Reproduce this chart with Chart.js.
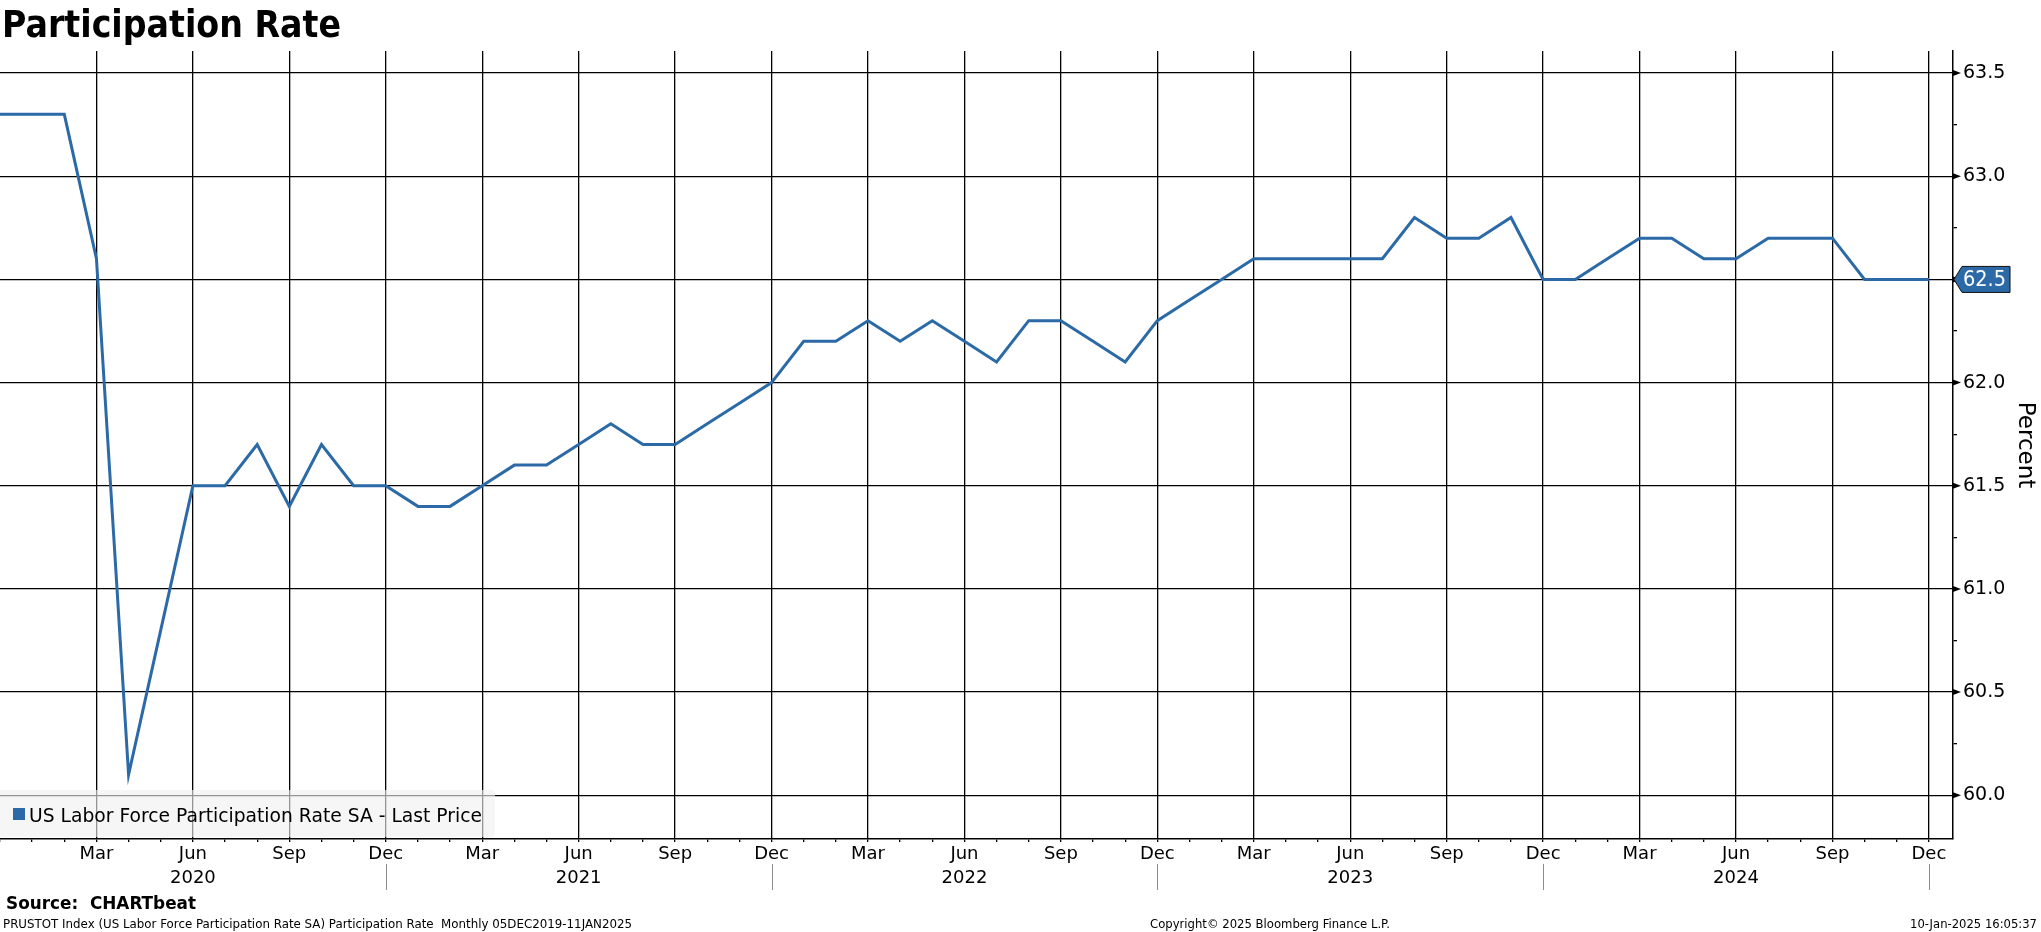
<!DOCTYPE html>
<html>
<head>
<meta charset="utf-8">
<script src="https://cdn.jsdelivr.net/npm/chart.js"></script>
<style>
  html, body { margin: 0; padding: 0; background: #fff; }
  #chart { display: block; }
</style>
</head>
<body>
<canvas id="chart" width="2041" height="932"></canvas>
<script>
// monthly observations, Dec 2019 .. Dec 2024
const months = [
  '2019-12',
  '2020-01','2020-02','2020-03','2020-04','2020-05','2020-06','2020-07','2020-08','2020-09','2020-10','2020-11','2020-12',
  '2021-01','2021-02','2021-03','2021-04','2021-05','2021-06','2021-07','2021-08','2021-09','2021-10','2021-11','2021-12',
  '2022-01','2022-02','2022-03','2022-04','2022-05','2022-06','2022-07','2022-08','2022-09','2022-10','2022-11','2022-12',
  '2023-01','2023-02','2023-03','2023-04','2023-05','2023-06','2023-07','2023-08','2023-09','2023-10','2023-11','2023-12',
  '2024-01','2024-02','2024-03','2024-04','2024-05','2024-06','2024-07','2024-08','2024-09','2024-10','2024-11','2024-12'
];
const participation = [
  63.3,
  63.3, 63.3, 62.6, 60.1, 60.8, 61.5, 61.5, 61.7, 61.4, 61.7, 61.5, 61.5,
  61.4, 61.4, 61.5, 61.6, 61.6, 61.7, 61.8, 61.7, 61.7, 61.8, 61.9, 62.0,
  62.2, 62.2, 62.3, 62.2, 62.3, 62.2, 62.1, 62.3, 62.3, 62.2, 62.1, 62.3,
  62.4, 62.5, 62.6, 62.6, 62.6, 62.6, 62.6, 62.8, 62.7, 62.7, 62.8, 62.5,
  62.5, 62.6, 62.7, 62.7, 62.6, 62.6, 62.7, 62.7, 62.7, 62.5, 62.5, 62.5
];
const monthNames = ['Jan','Feb','Mar','Apr','May','Jun','Jul','Aug','Sep','Oct','Nov','Dec'];
const labelledMonths = ['Mar','Jun','Sep','Dec'];
const yearLabelMonth = 'Jun';
const yTickValues = [60.0, 60.25, 60.5, 60.75, 61.0, 61.25, 61.5, 61.75, 62.0, 62.25, 62.5, 62.75, 63.0, 63.25, 63.5];
const seriesLabel = 'US Labor Force Participation Rate SA - Last Price';

const LINE = '#2c6aa7';
const FONT = "'DejaVu Sans', sans-serif";

function monthName(i) {
  return monthNames[parseInt(months[i].slice(5), 10) - 1];
}

// draw text squeezed/stretched to a target width
function fitText(ctx, text, x, y, font, width, align) {
  ctx.save();
  ctx.font = font;
  const w = ctx.measureText(text).width;
  const sx = width / w;
  let left = x;
  if (align === 'center') left = x - width / 2;
  if (align === 'right') left = x - width;
  ctx.translate(left, y);
  ctx.scale(sx, 1);
  ctx.textAlign = 'left';
  ctx.fillText(text, 0, 0);
  ctx.restore();
}

const decorations = {
  id: 'decorations',
  afterDraw(chart) {
    const ctx = chart.ctx;
    const x = chart.scales.x, y = chart.scales.y;
    const area = chart.chartArea;

    ctx.save();
    ctx.fillStyle = '#000';
    ctx.textBaseline = 'alphabetic';

    // title
    fitText(ctx, 'Participation Rate', 2, 37, 'bold 37px ' + FONT, 339);

    // arrow ticks at major y values
    yTickValues.forEach(v => {
      if (Math.round(v * 2) !== v * 2) return;
      const py = y.getPixelForValue(v);
      ctx.beginPath();
      ctx.moveTo(area.right, py - 3);
      ctx.lineTo(area.right + 8, py);
      ctx.lineTo(area.right, py + 3);
      ctx.closePath();
      ctx.fill();
    });

    // year separators
    ctx.strokeStyle = '#8c8c8c';
    ctx.lineWidth = 1;
    months.forEach((m, i) => {
      if (i > 0 && monthName(i) === 'Dec') {
        const px = Math.round(x.getPixelForValue(i)) + 0.5;
        ctx.beginPath();
        ctx.moveTo(px, 864);
        ctx.lineTo(px, 890);
        ctx.stroke();
      }
    });

    // last value tag
    const last = participation[participation.length - 1];
    const ty = y.getPixelForValue(last);
    const tx = area.right + 1;
    ctx.beginPath();
    ctx.moveTo(tx, ty);
    ctx.lineTo(tx + 8, ty - 13);
    ctx.lineTo(2010, ty - 13);
    ctx.lineTo(2010, ty + 13);
    ctx.lineTo(tx + 8, ty + 13);
    ctx.closePath();
    ctx.fillStyle = LINE;
    ctx.fill();
    ctx.strokeStyle = '#111';
    ctx.lineWidth = 1;
    ctx.stroke();
    ctx.fillStyle = '#fff';
    ctx.textBaseline = 'middle';
    fitText(ctx, last.toFixed(1), 1963, ty + 1, '21px ' + FONT, 43);

    // legend box
    ctx.fillStyle = 'rgba(240,240,240,0.62)';
    ctx.beginPath();
    ctx.roundRect(-4, 790, 499, 47, 4);
    ctx.fill();
    ctx.fillStyle = LINE;
    ctx.fillRect(13, 808, 12, 12);
    ctx.fillStyle = '#000';
    ctx.textBaseline = 'alphabetic';
    fitText(ctx, chart.data.datasets[0].label, 29, 822, '20px ' + FONT, 453);

    // footer
    fitText(ctx, 'Source:  CHARTbeat', 6, 909, 'bold 17px ' + FONT, 190);
    fitText(ctx, 'PRUSTOT Index (US Labor Force Participation Rate SA) Participation Rate  Monthly 05DEC2019-11JAN2025',
      3, 928, '12px ' + FONT, 629);
    fitText(ctx, 'Copyright\u00A9 2025 Bloomberg Finance L.P.', 1270, 928, '12px ' + FONT, 240, 'center');
    fitText(ctx, '10-Jan-2025 16:05:37', 2037, 928, '12px ' + FONT, 127, 'right');
    ctx.restore();
  }
};

new Chart(document.getElementById('chart'), {
  type: 'line',
  data: {
    datasets: [{
      label: seriesLabel,
      data: participation.map((v, i) => ({ x: i, y: v })),
      borderColor: LINE,
      borderWidth: 3,
      pointRadius: 0,
      tension: 0,
      fill: false
    }]
  },
  options: {
    responsive: false,
    devicePixelRatio: 1,
    animation: false,
    layout: { padding: { top: 51, left: 0, right: 0, bottom: 0 } },
    plugins: {
      legend: { display: false },
      tooltip: { enabled: false },
      title: { display: false }
    },
    scales: {
      x: {
        type: 'linear',
        min: 0,
        max: 60.75,
        afterFit(scale) { scale.height = 93; },
        afterBuildTicks(scale) {
          scale.ticks = months.map((m, i) => ({ value: i }));
        },
        grid: {
          color(ctx) {
            const i = ctx.tick && ctx.tick.value;
            return i > 0 && labelledMonths.includes(monthName(i)) ? '#000' : 'rgba(0,0,0,0)';
          },
          tickColor: '#000',
          lineWidth: 1.3,
          tickLength: 3,
          drawOnChartArea: true
        },
        border: { display: true, color: '#000', width: 1.5 },
        ticks: {
          autoSkip: false,
          maxRotation: 0,
          padding: 0,
          color: '#000',
          font: { family: FONT, size: 18, lineHeight: 1.33 },
          callback(value) {
            const i = Math.round(value);
            if (i === 0) return '';
            const name = monthName(i);
            if (!labelledMonths.includes(name)) return '';
            if (name === yearLabelMonth) return [name, months[i].slice(0, 4)];
            return name;
          }
        }
      },
      y: {
        position: 'right',
        min: 59.788,
        max: 63.607,
        afterFit(scale) { scale.width = 88; },
        afterBuildTicks(scale) {
          scale.ticks = yTickValues.map(v => ({ value: v }));
        },
        grid: {
          color(ctx) {
            const v = ctx.tick && ctx.tick.value;
            return Math.round(v * 2) === v * 2 ? '#000' : 'rgba(0,0,0,0)';
          },
          tickColor(ctx) {
            const v = ctx.tick && ctx.tick.value;
            return Math.round(v * 2) === v * 2 ? 'rgba(0,0,0,0)' : '#000';
          },
          lineWidth: 1.3,
          tickLength: 4
        },
        border: { display: true, color: '#000', width: 1.5 },
        ticks: {
          padding: 6,
          color: '#000',
          font: { family: FONT, size: 19 },
          callback(value) {
            return Math.round(value * 2) === value * 2 ? value.toFixed(1) : '';
          }
        },
        title: {
          display: true,
          text: 'Percent',
          color: '#000',
          font: { family: FONT, size: 23 },
          padding: { top: 2, bottom: 0 }
        }
      }
    }
  },
  plugins: [decorations]
});
</script>
</body>
</html>
